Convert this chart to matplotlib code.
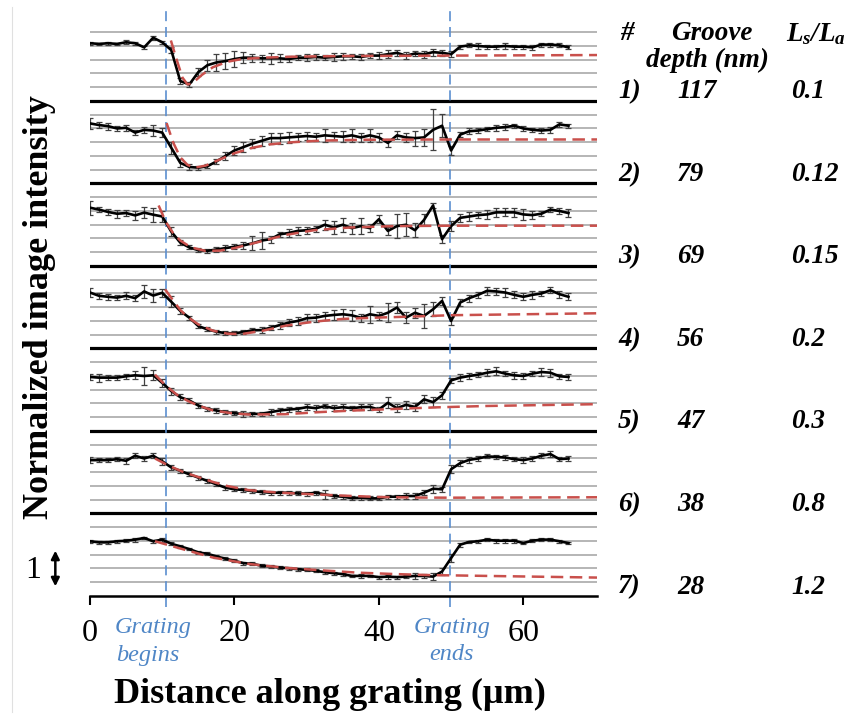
import matplotlib.pyplot as plt
import numpy as np

plt.rcParams['font.family'] = 'Liberation Serif'
plt.rcParams['mathtext.fontset'] = 'custom'
plt.rcParams['mathtext.it'] = 'Liberation Serif:italic:bold'
plt.rcParams['mathtext.rm'] = 'Liberation Serif:italic:bold'

# sample positions along the grating (um)
dist = [0, 1.25, 2.5, 3.75, 5, 6.25, 7.5, 8.75, 10, 11.25,
        12.5, 13.75, 15, 16.25, 17.5, 18.75, 20, 21.25, 22.5, 23.75,
        25, 26.25, 27.5, 28.75, 30, 31.25, 32.5, 33.75, 35, 36.25,
        37.5, 38.75, 40, 41.25, 42.5, 43.75, 45, 46.25, 47.5, 48.75,
        50, 51.25, 52.5, 53.75, 55, 56.25, 57.5, 58.75, 60, 61.25,
        62.5, 63.75, 65, 66.25]

# intensity of each profile (grid units above its own baseline), top to bottom
prof1 = [4.2, 4.15, 4.2, 4.15, 4.27, 4.2, 3.9, 4.6, 4.27, 3.7,
         1.45, 1.2, 2.1, 2.6, 2.8, 2.9, 3.05, 3.15, 3.15, 3.1,
         3.1, 3.1, 3.05, 3.15, 3.15, 3.2, 3.15, 3.2, 3.25, 3.25,
         3.2, 3.3, 3.3, 3.4, 3.5, 3.3, 3.45, 3.4, 3.55, 3.5,
         3.4, 3.95, 4.05, 4.0, 3.95, 3.95, 4.0, 3.95, 3.95, 3.9,
         4.1, 4.1, 4.05, 3.9]
prof2 = [4.37, 4.25, 4.17, 4.0, 4.05, 3.7, 3.9, 3.85, 3.7, 2.6,
         1.5, 1.2, 1.15, 1.25, 1.6, 2.0, 2.4, 2.65, 2.9, 3.1,
         3.3, 3.3, 3.35, 3.4, 3.45, 3.4, 3.5, 3.45, 3.4, 3.5,
         3.35, 3.5, 3.35, 2.95, 3.5, 3.35, 3.3, 3.35, 3.9, 4.2,
         2.4, 3.55, 3.8, 3.85, 3.95, 4.05, 4.1, 4.2, 4.0, 3.9,
         3.85, 3.9, 4.3, 4.2]
prof3 = [4.24, 4.1, 3.93, 3.8, 3.85, 3.68, 3.88, 3.73, 3.6, 2.5,
         1.7, 1.35, 1.15, 1.1, 1.2, 1.3, 1.4, 1.5, 1.65, 1.85,
         1.95, 2.3, 2.4, 2.55, 2.6, 2.7, 3.0, 2.8, 3.0, 2.75,
         2.9, 2.75, 3.4, 2.55, 2.9, 3.0, 2.6, 3.35, 4.4, 1.95,
         2.9, 3.5, 3.6, 3.7, 3.75, 3.9, 3.9, 3.9, 3.75, 3.7,
         3.8, 4.1, 4.0, 3.85]
prof4 = [4.07, 3.83, 3.76, 3.7, 3.83, 3.66, 4.15, 3.85, 4.05, 3.4,
         2.73, 2.24, 1.63, 1.39, 1.22, 1.12, 1.1, 1.2, 1.32, 1.34,
         1.51, 1.7, 1.88, 2.0, 2.2, 2.24, 2.37, 2.44, 2.49, 2.41,
         2.24, 2.49, 2.37, 2.6, 2.98, 2.24, 2.6, 2.37, 2.85, 3.46,
         2.0, 3.34, 3.66, 3.9, 4.2, 4.15, 4.07, 3.9, 3.76, 3.9,
         4.0, 4.24, 3.95, 3.76]
prof5 = [3.93, 3.88, 3.88, 3.88, 3.98, 4.05, 4.0, 4.05, 3.5, 2.9,
         2.46, 2.22, 1.85, 1.61, 1.49, 1.37, 1.29, 1.24, 1.24, 1.25,
         1.37, 1.49, 1.56, 1.61, 1.73, 1.66, 1.8, 1.66, 1.73, 1.66,
         1.73, 1.75, 1.56, 2.05, 1.66, 1.9, 1.75, 2.3, 2.1, 2.6,
         3.68, 3.88, 4.0, 4.1, 4.24, 4.34, 4.17, 4.05, 4.0, 4.17,
         4.29, 4.24, 3.98, 3.93]
prof6 = [3.88, 3.88, 3.88, 3.95, 3.83, 4.2, 4.0, 4.2, 3.8, 3.35,
         3.1, 2.85, 2.61, 2.37, 2.12, 1.88, 1.76, 1.71, 1.63, 1.56,
         1.51, 1.51, 1.51, 1.46, 1.44, 1.51, 1.39, 1.27, 1.22, 1.12,
         1.15, 1.1, 1.1, 1.22, 1.22, 1.27, 1.27, 1.51, 1.8, 1.76,
         3.22, 3.66, 3.9, 4.0, 4.15, 4.12, 4.07, 3.95, 3.88, 4.0,
         4.2, 4.32, 3.95, 4.0]
prof7 = [3.98, 3.9, 3.9, 3.98, 4.02, 4.1, 4.22, 3.98, 4.1, 3.8,
         3.61, 3.41, 3.17, 3.07, 2.88, 2.71, 2.56, 2.39, 2.34, 2.2,
         2.15, 2.07, 2.02, 1.95, 1.9, 1.83, 1.73, 1.66, 1.59, 1.46,
         1.46, 1.46, 1.37, 1.41, 1.37, 1.41, 1.46, 1.46, 1.41, 1.78,
         2.76, 3.73, 3.93, 3.98, 4.1, 4.02, 4.02, 4.02, 3.85, 4.02,
         4.1, 4.1, 3.98, 3.85]

err1 = [0.1, 0.1, 0.1, 0.1, 0.15, 0.1, 0.1, 0.15, 0.1, 0.2,
        0.2, 0.2, 0.3, 0.4, 0.6, 0.6, 0.6, 0.4, 0.3, 0.25,
        0.4, 0.3, 0.25, 0.2, 0.25, 0.25, 0.2, 0.3, 0.25, 0.2,
        0.25, 0.2, 0.25, 0.3, 0.2, 0.25, 0.2, 0.25, 0.25, 0.2,
        0.2, 0.15, 0.15, 0.2, 0.15, 0.15, 0.2, 0.15, 0.15, 0.2,
        0.15, 0.15, 0.15, 0.15]
err2 = [0.4, 0.2, 0.25, 0.2, 0.2, 0.2, 0.2, 0.4, 0.3, 0.45,
        0.3, 0.2, 0.15, 0.15, 0.2, 0.3, 0.35, 0.35, 0.35, 0.35,
        0.4, 0.4, 0.4, 0.3, 0.3, 0.3, 0.45, 0.3, 0.4, 0.45,
        0.3, 0.45, 0.3, 0.3, 0.3, 0.35, 0.55, 0.6, 1.5, 0.85,
        0.3, 0.2, 0.2, 0.2, 0.15, 0.2, 0.2, 0.15, 0.15, 0.15,
        0.15, 0.2, 0.2, 0.15]
err3 = [0.5, 0.2, 0.2, 0.3, 0.2, 0.3, 0.4, 0.5, 0.4, 0.35,
        0.2, 0.15, 0.15, 0.15, 0.15, 0.2, 0.2, 0.25, 0.5, 0.6,
        0.25, 0.2, 0.3, 0.3, 0.25, 0.2, 0.35, 0.5, 0.5, 0.4,
        0.6, 0.3, 0.3, 0.3, 0.85, 0.85, 0.5, 0.4, 0.2, 0.3,
        0.35, 0.3, 0.3, 0.2, 0.3, 0.35, 0.3, 0.35, 0.4, 0.3,
        0.2, 0.2, 0.25, 0.3]
err4 = [0.3, 0.2, 0.2, 0.2, 0.25, 0.2, 0.45, 0.45, 0.3, 0.4,
        0.2, 0.15, 0.15, 0.15, 0.15, 0.15, 0.15, 0.15, 0.15, 0.2,
        0.2, 0.25, 0.25, 0.3, 0.3, 0.3, 0.3, 0.35, 0.35, 0.4,
        0.3, 0.6, 0.3, 0.7, 0.4, 0.4, 0.35, 0.9, 0.5, 0.3,
        0.3, 0.25, 0.25, 0.2, 0.3, 0.25, 0.3, 0.25, 0.25, 0.3,
        0.2, 0.2, 0.25, 0.25]
err5 = [0.2, 0.3, 0.2, 0.2, 0.2, 0.3, 0.65, 0.35, 0.3, 0.25,
        0.2, 0.15, 0.15, 0.15, 0.15, 0.15, 0.15, 0.2, 0.15, 0.15,
        0.2, 0.15, 0.15, 0.15, 0.2, 0.2, 0.15, 0.2, 0.2, 0.15,
        0.2, 0.2, 0.2, 0.4, 0.3, 0.3, 0.3, 0.3, 0.35, 0.25,
        0.2, 0.25, 0.2, 0.2, 0.25, 0.3, 0.2, 0.25, 0.25, 0.2,
        0.3, 0.3, 0.2, 0.2]
err6 = [0.2, 0.15, 0.15, 0.15, 0.2, 0.2, 0.2, 0.2, 0.25, 0.2,
        0.15, 0.15, 0.15, 0.15, 0.15, 0.15, 0.15, 0.15, 0.15, 0.15,
        0.15, 0.15, 0.15, 0.15, 0.15, 0.15, 0.3, 0.15, 0.15, 0.15,
        0.15, 0.15, 0.15, 0.15, 0.15, 0.2, 0.2, 0.2, 0.3, 0.2,
        0.3, 0.2, 0.2, 0.15, 0.15, 0.15, 0.2, 0.15, 0.2, 0.2,
        0.2, 0.2, 0.15, 0.15]
err7 = [0.1, 0.1, 0.1, 0.1, 0.1, 0.15, 0.1, 0.1, 0.15, 0.1,
        0.1, 0.1, 0.1, 0.1, 0.1, 0.1, 0.1, 0.1, 0.1, 0.1,
        0.1, 0.1, 0.1, 0.1, 0.1, 0.1, 0.1, 0.1, 0.1, 0.1,
        0.15, 0.1, 0.1, 0.15, 0.1, 0.1, 0.2, 0.15, 0.25, 0.25,
        0.3, 0.15, 0.1, 0.1, 0.1, 0.15, 0.15, 0.15, 0.1, 0.1,
        0.1, 0.1, 0.1, 0.1]

# model fits (red dashed)
fit1_x = [11.2, 12.0, 12.8, 13.5, 14.2, 15.5, 17, 19, 21, 24, 28, 35, 50, 70.2]
fit1_y = [4.4, 3.0, 1.7, 1.2, 1.3, 1.9, 2.45, 2.85, 3.05, 3.15, 3.22, 3.27, 3.3, 3.34]
fit2_x = [10.6, 11.5, 12.5, 13.5, 14.5, 16, 18, 20, 22.5, 25, 28, 32, 38, 50, 70.2]
fit2_y = [4.4, 3.0, 1.9, 1.35, 1.15, 1.3, 1.75, 2.2, 2.6, 2.85, 3.0, 3.12, 3.18, 3.2, 3.2]
fit3_x = [9.5, 10.5, 11.5, 12.5, 14, 16, 18, 20, 23, 27, 31, 36, 42, 50, 70.2]
fit3_y = [4.4, 3.2, 2.4, 1.85, 1.35, 1.1, 1.12, 1.3, 1.7, 2.25, 2.6, 2.8, 2.9, 2.93, 2.93]
fit4_x = [10.4, 11.5, 12.5, 13.5, 15, 17, 19, 21, 24, 27, 31, 35, 40, 45, 50, 70.2]
fit4_y = [4.3, 3.5, 2.8, 2.3, 1.75, 1.3, 1.08, 1.05, 1.3, 1.65, 1.95, 2.15, 2.25, 2.33, 2.42, 2.56]
fit5_x = [9, 10.5, 12, 13.5, 15, 17, 19.5, 22, 27, 32, 37, 42, 48, 55, 70.2]
fit5_y = [4.1, 3.3, 2.65, 2.2, 1.85, 1.5, 1.3, 1.2, 1.22, 1.38, 1.5, 1.6, 1.72, 1.82, 1.95]
fit6_x = [9, 11, 13, 15, 17, 19, 22, 26, 30, 35, 40, 45, 50, 70.2]
fit6_y = [4.0, 3.45, 3.0, 2.65, 2.3, 2.0, 1.7, 1.52, 1.42, 1.3, 1.2, 1.16, 1.15, 1.18]
fit7_x = [9, 13, 17, 22, 27, 32, 37, 42, 47, 50, 60, 70.2]
fit7_y = [3.98, 3.38, 2.8, 2.33, 2.05, 1.87, 1.7, 1.6, 1.52, 1.5, 1.42, 1.34]

row_ids = ['1)', '2)', '3)', '4)', '5)', '6)', '7)']
depths = ['117', '79', '69', '56', '47', '38', '28']
ratios = ['0.1', '0.12', '0.15', '0.2', '0.3', '0.8', '1.2']

grating_start = 10.5
grating_end = 49.8

profiles = [prof1, prof2, prof3, prof4, prof5, prof6, prof7]
errors = [err1, err2, err3, err4, err5, err6, err7]
fits = [(fit1_x, fit1_y), (fit2_x, fit2_y), (fit3_x, fit3_y), (fit4_x, fit4_y),
        (fit5_x, fit5_y), (fit6_x, fit6_y), (fit7_x, fit7_y)]

W, H = 862, 719
fig = plt.figure(figsize=(W / 100, H / 100), dpi=100)
ax = fig.add_axes([90 / W, 1 - 596 / H, 507 / W, (596 - 11.6) / H])
ax.set_xlim(0, 70.2)
ax.set_ylim(0, 42.5)

# gridlines: gray every unit, black between panels
for k in range(1, 42):
    if k % 6 == 0:
        ax.axhline(k, color='black', lw=2.3, zorder=1)
    else:
        ax.axhline(k, color='#a9a9a9', lw=1.2, zorder=0.5)

for xv in [grating_start, grating_end]:
    ax.plot([xv, xv], [-0.8, 42.6], color='#5b8fd0', lw=1.2, dashes=(6, 3.5),
            clip_on=False, zorder=2)

for i in range(7):
    base = 6 * (6 - i)
    y = np.array(profiles[i]) + base
    ax.errorbar(dist, y, yerr=errors[i], color='black', lw=1.9,
                ecolor='#404040', elinewidth=0.9, capsize=2.4, capthick=0.9, zorder=3)
    fx, fy = fits[i]
    ax.plot(fx, np.array(fy) + base, color='#c9504c', lw=1.8, dashes=(5, 2.6), zorder=4)

for side in ['left', 'right', 'top']:
    ax.spines[side].set_visible(False)
ax.spines['bottom'].set_linewidth(1.8)
ax.set_yticks([])
ax.set_xticks([0, 20, 40, 60])
ax.tick_params(axis='x', direction='out', length=6.5, width=1.5, pad=10, labelsize=23)


def px(x, y):
    return x / W, 1 - y / H


fig.text(*px(40, 307), 'Normalized image intensity', rotation=90, fontsize=26,
         fontweight='bold', ha='center', va='center')
fig.text(*px(330, 694), 'Distance along grating (\u00b5m)', fontsize=26,
         fontweight='bold', ha='center', va='center')

blue = '#4f86c6'
fig.text(*px(153, 628), 'Grating', fontsize=17.5, style='italic', color=blue, ha='center', va='center')
fig.text(*px(148, 655), 'begins', fontsize=17.5, style='italic', color=blue, ha='center', va='center')
fig.text(*px(452, 628), 'Grating', fontsize=17.5, style='italic', color=blue, ha='center', va='center')
fig.text(*px(452, 655), 'ends', fontsize=17.5, style='italic', color=blue, ha='center', va='center')

# scale bar of one intensity unit
fig.text(*px(33, 570), '1', fontsize=23, ha='center', va='center')
ax.annotate('', xy=(-4.8, 0.5), xycoords='data', xytext=(-4.8, 3.5),
            arrowprops=dict(arrowstyle='<|-|>', color='black', lw=1.8, mutation_scale=12),
            annotation_clip=False)

# table on the right
tkw = dict(fontsize=19.5, fontweight='bold', style='italic', va='center')
fig.text(*px(620, 33), '#', ha='left', **tkw)
fig.text(*px(712, 34), 'Groove', ha='center', **tkw)
fig.text(*px(707, 60), 'depth (nm)', ha='center', **tkw)
fig.text(*px(816, 34), r'$L_s/L_a$', ha='center', fontsize=19.5, va='center')
for i in range(7):
    yy = 92 + 82.5 * i
    fig.text(*px(618, yy), row_ids[i], ha='left', **tkw)
    fig.text(*px(677, yy), depths[i], ha='left', **tkw)
    fig.text(*px(791, yy), ratios[i], ha='left', **tkw)

fig.add_artist(plt.Line2D([12 / W, 12 / W], [0.01, 0.99], color='#e0e0e0', lw=0.8))

fig.savefig('out.png', dpi=100)
